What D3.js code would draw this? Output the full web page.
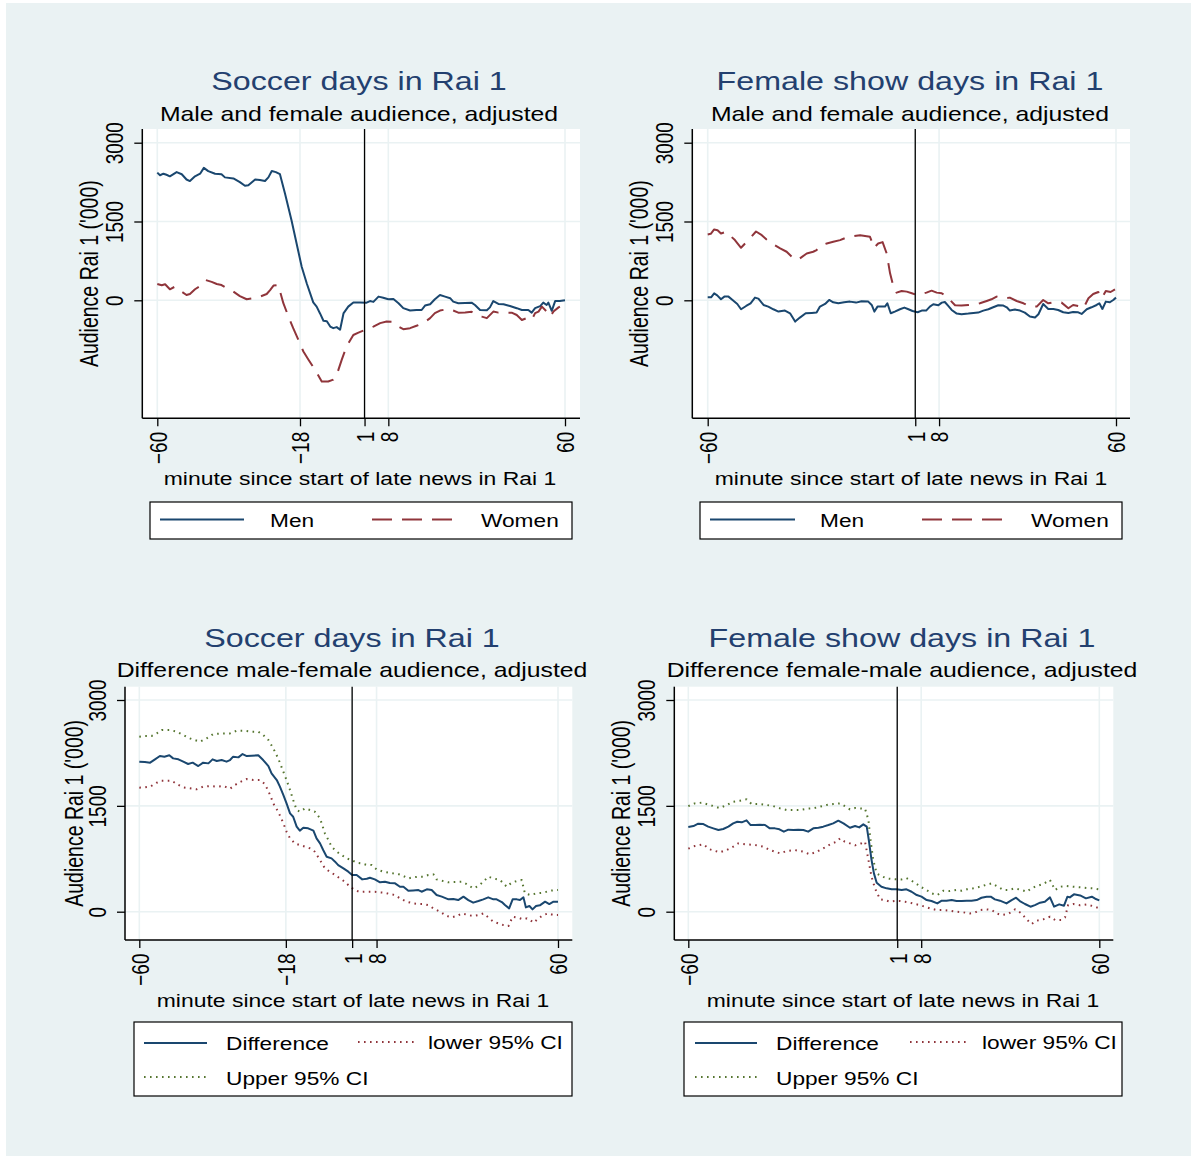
<!DOCTYPE html>
<html>
<head>
<meta charset="utf-8">
<script src="https://cdn.jsdelivr.net/npm/d3@7"></script>
<style>
  html, body { margin: 0; padding: 0; background: #ffffff; }
  svg { display: block; font-family: "Liberation Sans", Arial, Helvetica, sans-serif; }
</style>
</head>
<body>
<svg id="chart" width="1195" height="1158"></svg>
<script>
// ---------------- DATA (minute, audience '000) ----------------
const xTicksSoccer = [-60, -18, 1, 8, 60];
const xTicksFemale = [-60, 1, 8, 60];
const yTicks = [0, 1500, 3000];
const newsStart = 1;

const soccerMen = [[-60,2430],[-59.2,2380],[-58.2,2410],[-57.3,2390],[-56.3,2360],[-54.3,2440],[-52.8,2400],[-51.4,2300],[-50.4,2270],[-48.9,2360],[-47.4,2410],[-46.3,2520],[-45,2460],[-43,2410],[-41.1,2400],[-40.1,2340],[-37.6,2320],[-35.7,2250],[-34.2,2180],[-33.2,2190],[-31.2,2300],[-29.8,2290],[-28.3,2270],[-27.3,2340],[-26.3,2460],[-25.1,2440],[-23.9,2400],[-22.4,2030],[-20.5,1525],[-19,1080],[-17.5,640],[-16,320],[-14.1,-40],[-13.1,-120],[-12.1,-250],[-11.1,-390],[-10.1,-400],[-9.1,-500],[-8.2,-530],[-7.2,-510],[-6.2,-560],[-5.2,-250],[-3.8,-120],[-2.3,-40],[-0.3,-40],[1.6,-45],[2.6,-15],[3.6,-30],[5.1,70],[6.5,50],[8,20],[9.5,25],[11,-55],[12.4,-150],[14.4,-195],[16.3,-185],[17.8,-185],[18.8,-100],[20.3,-75],[21.7,20],[23.2,100],[24.7,70],[26.2,40],[27.1,-25],[28.6,-55],[30.6,-50],[32.5,-45],[33.5,-90],[35,-185],[37,-190],[37.9,-135],[38.9,-15],[40.4,-70],[41.9,-75],[43.8,-110],[45.8,-150],[47.3,-185],[49.2,-185],[50.2,-235],[51.2,-150],[52.7,-110],[53.6,-45],[54.6,-90],[55.1,-45],[56.1,-200],[57.1,-15],[58.5,-15],[60,0]];

const soccerWomen = [[-60,310],[-58.7,285],[-57.7,305],[-56.3,210],[-54.8,260],[-53.3,185],[-51.4,100],[-50.4,120],[-48.9,210],[-47.4,270],[-45.7,385],[-44,350],[-42.5,310],[-41.1,290],[-39.6,230],[-37.6,165],[-35.7,80],[-33.7,20],[-31.7,40],[-29.8,70],[-27.8,120],[-26.8,195],[-25.8,280],[-24.4,290],[-22.9,-55],[-21.4,-310],[-20,-530],[-18.5,-750],[-17,-975],[-15.5,-1130],[-13.6,-1320],[-11.6,-1545],[-9.7,-1545],[-8.2,-1510],[-7.2,-1420],[-5.7,-1130],[-4.3,-880],[-2.3,-660],[-0.8,-615],[1.1,-565],[3.6,-500],[5.6,-435],[7.5,-405],[9.5,-410],[11,-500],[12.4,-550],[14.4,-530],[16.3,-485],[18.3,-435],[20.3,-340],[21.7,-245],[23.2,-195],[25.7,-165],[27.1,-195],[28.6,-235],[30.6,-230],[32.5,-220],[34,-280],[35.5,-310],[37,-340],[38.9,-215],[40.4,-235],[42.4,-235],[44.3,-235],[45.8,-280],[47.3,-375],[48.7,-340],[50.2,-375],[51.2,-245],[52.2,-215],[53.2,-120],[54.6,-215],[55.6,-310],[56.6,-215],[58.1,-135],[58.5,-120]];

const femaleMen = [[-60,57],[-59,57],[-58.1,133],[-57.2,95],[-56.1,19],[-55.1,70],[-53.9,70],[-52.7,6],[-51.3,-70],[-50.2,-171],[-48.7,-108],[-47.4,-57],[-46.1,51],[-45.1,32],[-43.6,-89],[-42.2,-120],[-40.7,-171],[-39.2,-215],[-37.3,-196],[-35.8,-247],[-34.3,-405],[-32.9,-329],[-31.2,-247],[-29.4,-240],[-28,-234],[-27,-120],[-25.5,-70],[-24.3,6],[-23.1,-38],[-21.6,-57],[-19.9,-38],[-18.2,-25],[-16.4,-44],[-14.8,-19],[-12.8,-25],[-11.8,-89],[-11,-215],[-10.1,-120],[-8.9,-120],[-7.9,-120],[-7.2,-57],[-6.2,-247],[-5,-215],[-3.5,-171],[-2.2,-139],[-1,-171],[0.2,-203],[1.7,-228],[2.9,-196],[4.2,-196],[5.3,-120],[6.3,-76],[7.8,-95],[8.8,-44],[9.7,-32],[10.7,-108],[11.7,-184],[13.2,-253],[14.6,-266],[16.6,-253],[18.1,-240],[19.5,-234],[21,-196],[22.5,-171],[23.9,-133],[25.4,-95],[26.9,-101],[27.9,-133],[28.8,-196],[30.3,-177],[31.8,-196],[33.2,-234],[34.7,-310],[36.2,-329],[37.2,-266],[38.6,-70],[40.1,-165],[41.6,-165],[43,-184],[44.5,-228],[46,-240],[47.4,-222],[48.9,-228],[49.9,-259],[51.4,-171],[52.8,-133],[54.3,-89],[55.1,-57],[56,-165],[57,-25],[58.2,-38],[59.2,6],[60,51]];

const femaleWomen = [[-60,1253],[-59.1,1266],[-58.1,1348],[-57.1,1335],[-56.1,1272],[-54.6,1304],[-52,1146],[-50.2,1000],[-49,1082],[-47.6,1177],[-45.8,1310],[-44.1,1240],[-42.7,1158],[-40.7,1063],[-38.7,987],[-36.8,924],[-35.3,829],[-34.1,766],[-32.9,797],[-30.9,892],[-29,924],[-28,956],[-26.5,1051],[-25,1082],[-23.1,1114],[-21.1,1146],[-19.2,1196],[-17.2,1222],[-15.2,1240],[-12.3,1209],[-11.1,1000],[-9.9,1082],[-8.6,1108],[-7.4,892],[-6.4,513],[-5.4,259],[-4.5,146],[-3,177],[-1.5,165],[0,133],[1.4,101],[2.9,120],[4.3,146],[5.8,184],[7.3,146],[8.8,133],[10.2,82],[11.2,6],[12.7,-95],[14.6,-101],[16.6,-89],[18.6,-76],[20,-57],[22,-13],[23.4,19],[24.9,70],[26.9,38],[28.8,51],[30.8,-13],[32.8,-57],[34.7,-120],[36.7,-120],[38.6,6],[40.1,-57],[42.1,-32],[44,-44],[46,-152],[47.4,-89],[48.9,-108],[50.4,-152],[51.9,38],[53.3,120],[54.8,158],[55.8,38],[57,177],[58.4,158],[59.7,209]];

const soccerDiff = [[-60,2126],[-58.4,2121],[-56.9,2112],[-55.5,2159],[-54.1,2206],[-52.8,2197],[-51.4,2216],[-50.3,2173],[-48.8,2159],[-47.4,2126],[-46,2093],[-44.7,2112],[-43.1,2064],[-41.7,2112],[-40.2,2102],[-39,2159],[-37.8,2135],[-36.4,2149],[-35,2126],[-34,2149],[-33.1,2197],[-31.6,2187],[-30.4,2234],[-29.2,2206],[-27.8,2211],[-25.9,2216],[-24.5,2149],[-23,2064],[-22.1,1960],[-20.6,1866],[-19.7,1772],[-18.7,1653],[-17.8,1535],[-16.8,1394],[-15.9,1346],[-14.9,1205],[-14,1148],[-13,1190],[-11.6,1181],[-10.1,1148],[-9.2,1039],[-8.2,968],[-7.3,874],[-6.3,779],[-4.9,756],[-3.9,709],[-3,661],[-1.5,614],[-0.1,567],[1,520],[2.3,520],[3.9,458],[5.2,468],[6.1,482],[7.5,458],[9,416],[10.4,425],[11.8,406],[13.3,402],[14.7,354],[15.7,354],[17.1,298],[18.5,302],[20,307],[20.9,283],[22.4,317],[23.8,307],[25.2,236],[26.7,213],[28.6,175],[30,180],[31.4,165],[32.9,213],[34.3,165],[35.7,128],[37.2,151],[38.6,175],[40,203],[41.5,175],[42.4,175],[43.9,137],[44.8,94],[46,47],[47,175],[48.2,175],[49.1,165],[50.1,203],[50.8,61],[51.8,80],[52.7,33],[53.7,80],[54.8,90],[56.3,142],[57.5,109],[58.7,142],[60,142]];

const soccerUpper = [[-60,2480],[-58.4,2490],[-56.5,2490],[-55,2527],[-53.6,2575],[-51.2,2575],[-49.3,2551],[-47.4,2504],[-45.5,2456],[-42.6,2409],[-40.7,2456],[-38.8,2518],[-35.9,2527],[-34,2527],[-32.1,2565],[-29.7,2565],[-27.8,2551],[-25.9,2551],[-24.5,2504],[-23,2433],[-21.6,2315],[-20.2,2173],[-18.9,2008],[-17.8,1866],[-16.8,1724],[-15.9,1583],[-14.9,1441],[-14,1417],[-12.5,1464],[-11.1,1441],[-9.7,1417],[-8.2,1323],[-6.8,1110],[-5.8,1016],[-4.9,921],[-3.4,850],[-2,803],[-0.6,756],[0.9,732],[2.3,694],[3.7,685],[5.2,661],[6.6,661],[8,600],[9.9,567],[11.4,553],[12.8,543],[14.2,534],[15.7,505],[17.1,472],[18.5,487],[20,496],[21.4,496],[22.8,520],[24.3,529],[25.2,458],[26.7,439],[28.6,416],[30.5,420],[32.4,425],[33.8,392],[35.7,331],[37.2,364],[38.6,425],[40,496],[41.5,472],[43.4,449],[45.3,354],[46.7,411],[48.2,435],[49.6,449],[50.5,260],[52,236],[53.9,260],[55.8,269],[57.7,298],[60,307]];

const soccerLower = [[-60,1757],[-58.4,1762],[-56.9,1772],[-55,1828],[-53.6,1857],[-50.7,1857],[-49.3,1809],[-47.4,1762],[-45.5,1748],[-43.6,1734],[-41.7,1772],[-39.7,1781],[-37.8,1772],[-35.9,1781],[-34,1743],[-32.6,1795],[-31.1,1838],[-29.2,1880],[-27.3,1866],[-25.4,1866],[-24,1809],[-22.5,1653],[-21.6,1535],[-20.2,1417],[-18.7,1252],[-17.8,1134],[-16.8,1039],[-15.4,968],[-14,945],[-12.5,921],[-11.1,898],[-9.7,850],[-8.2,732],[-6.8,614],[-5.4,567],[-3.9,520],[-2.5,472],[-1.1,425],[0.4,354],[1.8,307],[3.2,279],[4.7,283],[6.1,283],[7.5,283],[9,274],[10.4,269],[11.8,250],[13.3,236],[14.7,189],[16.6,142],[18.5,118],[20,109],[21.4,109],[22.8,94],[24.3,47],[26.2,0],[28.1,-61],[29.5,-80],[31,-61],[32.4,-24],[34.3,-47],[35.7,-61],[37.2,-47],[38.6,-24],[40,-80],[41.5,-142],[42.9,-165],[44.3,-189],[45.8,-203],[47,-71],[48.6,-85],[50.1,-109],[51.1,-94],[52,-118],[53,-156],[54.4,-94],[55.8,-47],[57.2,-24],[58.7,-47],[60,-47]];

const femaleDiff = [[-60,1200],[-58.5,1214],[-57.1,1247],[-55.6,1242],[-54.2,1205],[-52.7,1181],[-51.2,1157],[-49.8,1172],[-48.3,1205],[-46.9,1252],[-45.7,1275],[-44.4,1266],[-43,1294],[-41.8,1228],[-40.5,1228],[-39.1,1233],[-37.6,1228],[-36.2,1181],[-34.7,1181],[-33.4,1167],[-32.1,1134],[-30.8,1162],[-29.3,1157],[-27.9,1162],[-26.4,1157],[-25,1134],[-23.5,1181],[-22,1190],[-20.6,1205],[-19.1,1228],[-17.7,1252],[-16.2,1290],[-14.7,1252],[-12.8,1190],[-11.3,1214],[-10.1,1195],[-8.9,1238],[-7.9,1205],[-7.3,1016],[-6.5,732],[-5.8,543],[-5,411],[-3.6,354],[-2.1,331],[-0.6,317],[0.8,317],[2.3,307],[3.7,317],[5.2,283],[6.7,236],[8.1,213],[9.6,165],[11,151],[12.7,118],[14,156],[15.4,156],[16.9,165],[18.3,151],[19.8,151],[21.3,156],[22.7,156],[24.2,165],[25.6,198],[27.1,213],[28.3,213],[29.5,175],[31,156],[32.9,118],[34.4,165],[35.7,198],[36.8,151],[38.3,109],[39.9,71],[41.2,94],[42.7,128],[44.1,142],[45.6,203],[46.8,71],[48.3,104],[49.7,85],[50.7,213],[51.4,203],[52.6,246],[54.4,231],[56.1,189],[57.8,213],[58.8,184],[60,161]];

const femaleUpper = [[-60,1497],[-58.1,1535],[-56.1,1545],[-53.7,1512],[-50.8,1469],[-48.8,1512],[-46.9,1559],[-44.9,1573],[-43,1592],[-41.5,1526],[-39.1,1526],[-37.1,1512],[-35.2,1497],[-33.2,1464],[-31.3,1441],[-29.3,1441],[-27.4,1441],[-25.4,1460],[-23.5,1464],[-21.6,1488],[-19.6,1512],[-17.7,1526],[-15.7,1535],[-14.3,1497],[-12.8,1450],[-11.3,1469],[-9.9,1464],[-8.4,1460],[-7.4,1299],[-6.8,1016],[-6,732],[-5,543],[-3.6,505],[-2.1,472],[-0.6,463],[0.8,458],[2.3,458],[3.7,477],[5.2,439],[6.7,392],[8.1,345],[9.6,307],[11,260],[12.7,236],[14.5,298],[16.4,293],[18.3,307],[19.8,298],[21.3,317],[23.2,331],[25.2,354],[27.1,383],[28.6,402],[30,364],[32,307],[33.4,307],[35.4,331],[37.3,307],[38.8,283],[40.2,331],[41.7,364],[43.6,392],[45.6,449],[47.1,307],[48.5,354],[50.5,364],[52.4,354],[54.4,345],[56.3,335],[58.2,331],[60,317]];

const femaleLower = [[-60,893],[-58.1,931],[-55.6,954],[-53.7,883],[-50.8,841],[-48.8,874],[-46.9,921],[-45.4,968],[-43,954],[-40.5,945],[-38.1,921],[-36.2,874],[-33.2,827],[-31.3,860],[-28.9,874],[-26.4,850],[-24.5,813],[-22.5,850],[-20.6,898],[-18.6,954],[-16.7,992],[-15.7,1039],[-14.3,992],[-12.8,968],[-11.3,940],[-9.9,959],[-8.4,992],[-7.4,732],[-6.5,496],[-5.5,331],[-4,175],[-2.6,165],[-1.1,142],[0.3,151],[1.8,151],[3.3,142],[4.7,128],[6.2,109],[7.6,94],[9.1,71],[10.6,47],[12.5,24],[14.5,24],[16.4,14],[18.3,0],[20.3,-9],[22.2,-24],[23.7,-14],[25.2,24],[27.1,33],[28.6,24],[30,-24],[31.5,-47],[33.4,-33],[35.4,33],[37.3,-24],[38.8,-109],[40.2,-175],[41.7,-128],[43.6,-109],[45.6,-71],[47.1,-118],[49,-118],[50,-80],[50.9,94],[52.4,109],[54.4,90],[56.3,104],[58.1,80],[59.2,61],[60,47]];

// ---------------- STYLE / LAYOUT ----------------
const SX = 1.24;               // horizontal stretch of the original raster
const SXR = 1.3;               // stretch for rotated labels
const NAVY = "#1a476f", MAROON = "#90353b", GREEN = "#55752f";
const BG = "#eaf2f3", TITLE = "#23406f";
const DASH = "20,10", DOT = "1.6,4.4";

const panels = [
  { title: "Soccer days in Rai 1", subtitle: "Male and female audience, adjusted",
    left: 142.3, right: 580, top: 129, bottom: 418.3, xr: [157.3, 565], yr: [300.3, 142.7],
    tcx: 359, ty: 90, sty: 121, xtcx: 360, xty: 485, ytx: 98, xticks: xTicksSoccer,
    series: [{ d: soccerMen, c: NAVY, dash: null }, { d: soccerWomen, c: MAROON, dash: DASH }],
    legend: { box: [150, 502, 572, 539], items: [
      { x1: 160, x2: 244, y: 519.5, c: NAVY, dash: null, label: "Men", tx: 270, ty: 527 },
      { x1: 372, x2: 457, y: 519.5, c: MAROON, dash: DASH, label: "Women", tx: 481, ty: 527 } ] } },
  { title: "Female show days in Rai 1", subtitle: "Male and female audience, adjusted",
    left: 692.3, right: 1130, top: 129, bottom: 418.3, xr: [707.7, 1116], yr: [300.3, 142.7],
    tcx: 910, ty: 90, sty: 121, xtcx: 911, xty: 485, ytx: 648, xticks: xTicksFemale,
    series: [{ d: femaleMen, c: NAVY, dash: null }, { d: femaleWomen, c: MAROON, dash: DASH }],
    legend: { box: [700, 502, 1122, 539], items: [
      { x1: 710, x2: 795, y: 519.5, c: NAVY, dash: null, label: "Men", tx: 820, ty: 527 },
      { x1: 922, x2: 1007, y: 519.5, c: MAROON, dash: DASH, label: "Women", tx: 1031, ty: 527 } ] } },
  { title: "Soccer days in Rai 1", subtitle: "Difference male-female audience, adjusted",
    left: 125, right: 572.3, top: 686.7, bottom: 940, xr: [139.3, 558], yr: [911.7, 700],
    tcx: 352, ty: 646.7, sty: 677.3, xtcx: 353, xty: 1007, ytx: 83, xticks: xTicksSoccer,
    series: [{ d: soccerUpper, c: GREEN, dash: DOT }, { d: soccerLower, c: MAROON, dash: DOT }, { d: soccerDiff, c: NAVY, dash: null }],
    legend: { box: [134, 1022, 572, 1096], items: [
      { x1: 144, x2: 207, y: 1043, c: NAVY, dash: null, label: "Difference", tx: 226, ty: 1050 },
      { x1: 358, x2: 417, y: 1042, c: MAROON, dash: DOT, label: "lower 95% CI", tx: 428, ty: 1048.5 },
      { x1: 144, x2: 207, y: 1077, c: GREEN, dash: DOT, label: "Upper 95% CI", tx: 226, ty: 1085 } ] } },
  { title: "Female show days in Rai 1", subtitle: "Difference female-male audience, adjusted",
    left: 674.3, right: 1113.3, top: 686.7, bottom: 940, xr: [688.3, 1099.3], yr: [911.7, 700],
    tcx: 902, ty: 646.7, sty: 677.3, xtcx: 903, xty: 1007, ytx: 630, xticks: xTicksFemale,
    series: [{ d: femaleUpper, c: GREEN, dash: DOT }, { d: femaleLower, c: MAROON, dash: DOT }, { d: femaleDiff, c: NAVY, dash: null }],
    legend: { box: [684, 1022, 1122, 1096], items: [
      { x1: 695, x2: 757, y: 1043, c: NAVY, dash: null, label: "Difference", tx: 776, ty: 1050 },
      { x1: 910, x2: 970, y: 1042, c: MAROON, dash: DOT, label: "lower 95% CI", tx: 982, ty: 1048.5 },
      { x1: 695, x2: 757, y: 1077, c: GREEN, dash: DOT, label: "Upper 95% CI", tx: 776, ty: 1085 } ] } }
];

// ---------------- DRAW ----------------
const svg = d3.select("#chart");
svg.append("rect").attr("x", 0).attr("y", 0).attr("width", 1195).attr("height", 1158).attr("fill", "#ffffff");
svg.append("rect").attr("x", 6).attr("y", 3).attr("width", 1185).attr("height", 1153).attr("fill", BG);

function addText(g, x, y, s, size, opts = {}) {
  const sx = opts.rot ? SXR : SX;
  return g.append("text")
    .attr("transform", `translate(${x},${y}) scale(${sx},1)` + (opts.rot ? " rotate(-90)" : ""))
    .attr("text-anchor", opts.anchor || "start")
    .attr("font-size", size)
    .attr("fill", opts.color || "#000")
    .text(s);
}

panels.forEach(p => {
  const g = svg.append("g");
  const x = d3.scaleLinear().domain([-60, 60]).range(p.xr);
  const y = d3.scaleLinear().domain([0, 3000]).range(p.yr);

  // plot region
  g.append("rect").attr("x", p.left).attr("y", p.top)
    .attr("width", p.right - p.left).attr("height", p.bottom - p.top).attr("fill", "#fff");

  // grid
  g.selectAll(".hg").data(yTicks).join("line")
    .attr("x1", p.left).attr("x2", p.right).attr("y1", d => y(d)).attr("y2", d => y(d))
    .attr("stroke", BG).attr("stroke-width", 1.6);
  g.selectAll(".vg").data(p.xticks).join("line")
    .attr("x1", d => x(d)).attr("x2", d => x(d)).attr("y1", p.top).attr("y2", p.bottom)
    .attr("stroke", BG).attr("stroke-width", 1.6);

  // series
  const line = d3.line().x(d => x(d[0])).y(d => y(d[1]));
  p.series.forEach(s => {
    g.append("path").datum(s.d).attr("d", line)
      .attr("fill", "none").attr("stroke", s.c).attr("stroke-width", 2)
      .attr("stroke-linejoin", "round")
      .attr("stroke-dasharray", s.dash);
  });

  // vertical line at start of news
  g.append("line").attr("x1", x(newsStart)).attr("x2", x(newsStart))
    .attr("y1", p.top).attr("y2", p.bottom).attr("stroke", "#000").attr("stroke-width", 1.3);

  // x axis
  const xa = g.append("g").attr("transform", `translate(0,${p.bottom})`)
    .call(d3.axisBottom(x).tickValues(p.xticks).tickSize(8).tickSizeOuter(0).tickFormat(d3.format("d")));
  xa.select(".domain").remove();
  xa.selectAll(".tick line").attr("stroke", "#000").attr("stroke-width", 1.3);
  xa.selectAll(".tick text")
    .attr("x", null).attr("y", null).attr("dy", "0.36em")
    .attr("transform", `translate(0,13.5) scale(${SXR},1) rotate(-90)`)
    .attr("text-anchor", "end").attr("font-size", 19).attr("fill", "#000")
    .attr("font-family", "Liberation Sans, Arial, sans-serif");
  g.append("line").attr("x1", p.left).attr("x2", p.right).attr("y1", p.bottom).attr("y2", p.bottom)
    .attr("stroke", "#000").attr("stroke-width", 1.5);

  // y axis
  const ya = g.append("g").attr("transform", `translate(${p.left},0)`)
    .call(d3.axisLeft(y).tickValues(yTicks).tickSize(8).tickSizeOuter(0).tickFormat(d3.format("d")));
  ya.select(".domain").remove();
  ya.selectAll(".tick line").attr("stroke", "#000").attr("stroke-width", 1.3);
  ya.selectAll(".tick text")
    .attr("x", null).attr("y", null).attr("dy", 0)
    .attr("transform", `translate(-19,0) scale(${SXR},1) rotate(-90)`)
    .attr("text-anchor", "middle").attr("font-size", 19).attr("fill", "#000")
    .attr("font-family", "Liberation Sans, Arial, sans-serif");
  g.append("line").attr("x1", p.left).attr("x2", p.left).attr("y1", p.top).attr("y2", p.bottom)
    .attr("stroke", "#000").attr("stroke-width", 1.5);

  // titles
  addText(g, p.tcx, p.ty, p.title, 26, { anchor: "middle", color: TITLE });
  addText(g, p.tcx, p.sty, p.subtitle, 20, { anchor: "middle" });
  addText(g, p.xtcx, p.xty, "minute since start of late news in Rai 1", 18.5, { anchor: "middle" });
  addText(g, p.ytx, (p.top + p.bottom) / 2, "Audience Rai 1 ('000)", 19.5, { anchor: "middle", rot: true });

  // legend
  const b = p.legend.box;
  g.append("rect").attr("x", b[0]).attr("y", b[1]).attr("width", b[2] - b[0]).attr("height", b[3] - b[1])
    .attr("fill", "#fff").attr("stroke", "#000").attr("stroke-width", 1.2);
  p.legend.items.forEach(it => {
    g.append("line").attr("x1", it.x1).attr("x2", it.x2).attr("y1", it.y).attr("y2", it.y)
      .attr("stroke", it.c).attr("stroke-width", 2).attr("stroke-dasharray", it.dash);
    addText(g, it.tx, it.ty, it.label, 18.3);
  });
});
</script>
</body>
</html>
